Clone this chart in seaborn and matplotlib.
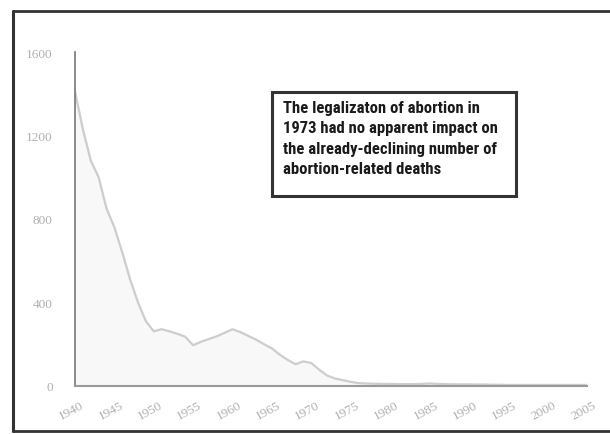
import matplotlib
matplotlib.use("Agg")
import matplotlib.pyplot as plt
from matplotlib.patches import Rectangle
from matplotlib.lines import Line2D
import matplotlib.transforms as mtrans
import seaborn as sns
import pandas as pd

years = list(range(1940, 2006))
deaths = [1410, 1230, 1080, 1000, 850, 760, 640, 510, 400, 310,
          262, 272, 262, 250, 236, 195, 212, 225, 238, 255,
          272, 258, 240, 222, 200, 180, 150, 125, 104, 118,
          110, 78, 50, 36, 28, 20, 14, 12, 11, 10,
          10, 9, 9, 9, 10, 12, 10, 9, 8, 8,
          8, 7, 7, 6, 6, 5, 5, 5, 5, 5,
          5, 5, 5, 5, 5, 5]
xtick_years = list(range(1940, 2006, 5))
yticks = [0, 400, 800, 1200, 1600]
note = ("The legalizaton of abortion in\n1973 had no apparent impact on\n"
        "the already-declining number of\nabortion-related deaths")

df = pd.DataFrame({"year": years, "deaths": deaths})

sns.set_style("white")
plt.rcParams["font.family"] = ["Liberation Serif", "DejaVu Serif"]

fig = plt.figure(figsize=(6.1, 4.35), dpi=100)
ax = fig.add_axes([75/610, 1-387/435, (587-75)/610, (387-53)/435])

ax.fill_between(df["year"], df["deaths"], 0, color="#f8f8f8", zorder=1)
sns.lineplot(data=df, x="year", y="deaths", ax=ax, color="#cdcdcd",
             linewidth=1.6, zorder=2)

ax.set_xlim(1940, 2005)
ax.set_ylim(0, 1600)
ax.set_xticks(xtick_years)
ax.set_xticklabels([str(y) for y in xtick_years], rotation=28, ha="right",
                   va="top", rotation_mode="anchor", color="#b0b0b0", fontsize=9.5)
ax.set_yticks(yticks)
ax.set_yticklabels([str(v) for v in yticks], color="#b0b0b0", fontsize=9.5)
ax.tick_params(axis="y", length=0, pad=16)
ax.tick_params(axis="x", length=0, pad=9)
ax.set_xlabel("")
ax.set_ylabel("")

offset = mtrans.ScaledTranslation(5/100, 0, fig.dpi_scale_trans)
for lbl in ax.get_xticklabels():
    lbl.set_transform(lbl.get_transform() + offset)

for s in ["top", "right"]:
    ax.spines[s].set_visible(False)
ax.spines["left"].set_color("#777777")
ax.spines["left"].set_linewidth(1.2)
ax.spines["bottom"].set_color("#999999")
ax.spines["bottom"].set_linewidth(1.5)

# outer frame (cropped on the right)
W, H = 610, 435
fc = "#333333"
fig.add_artist(Line2D([13/W, 13/W], [1-12/H, 1-432/H], color=fc, lw=2.2, transform=fig.transFigure))
fig.add_artist(Line2D([13/W, 1.0], [1-12/H, 1-12/H], color=fc, lw=2.0, transform=fig.transFigure))
fig.add_artist(Line2D([13/W, 1.0], [1-432/H, 1-432/H], color=fc, lw=2.0, transform=fig.transFigure))

# annotation box
bx0, by0, bx1, by1 = 272, 93, 516, 197
fig.add_artist(Rectangle((bx0/W, 1-by1/H), (bx1-bx0)/W, (by1-by0)/H,
                         transform=fig.transFigure, fill=True, facecolor="white",
                         edgecolor="#333333", lw=2.2, zorder=5))
fig.text(283/W, 1-101/H, note, ha="left", va="top", fontsize=12,
         fontweight="bold", family=["Roboto Condensed", "Roboto", "DejaVu Sans"],
         color="#1a1a1a", linespacing=1.45, zorder=6)

fig.savefig("out.png", dpi=100)
